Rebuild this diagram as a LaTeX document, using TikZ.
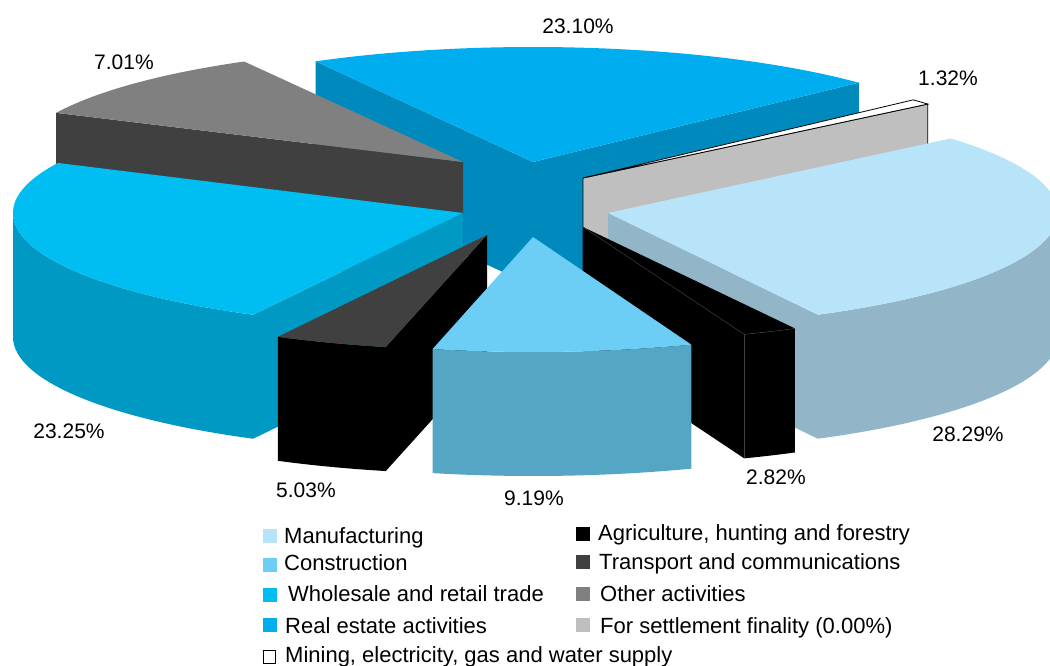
\documentclass[tikz,border=0pt]{standalone}
\usepackage{fontspec}
\setmainfont{Liberation Sans}
\definecolor{manuf}{HTML}{B7E4F8}
\definecolor{manufside}{HTML}{93B5C8}
\definecolor{constr}{HTML}{6CCEF5}
\definecolor{constrside}{HTML}{55A5C4}
\definecolor{whole}{HTML}{00BDF2}
\definecolor{wholeside}{HTML}{0099C4}
\definecolor{realest}{HTML}{00AEEF}
\definecolor{realestside}{HTML}{0089BD}
\definecolor{transp}{HTML}{404040}
\definecolor{other}{HTML}{808080}
\definecolor{settle}{HTML}{BFBFBF}

\begin{document}
\begin{tikzpicture}[x=1pt,y=-1pt,
  rim/.style={x radius=450,y radius=115},
  pct/.style={font=\fontsize{21}{25}\selectfont},
  leg/.style={anchor=base west,inner sep=0pt,font=\fontsize{22}{26}\selectfont},
  key/.style={minimum width=14pt,minimum height=14pt,inner sep=0pt}]
\useasboundingbox (0,0) rectangle (1050,666);
\clip (0,0) rectangle (1050,666);

% real estate
\fill[realestside] (533,162) -- ++(-118.9:450 and 115) -- ++(0,124) -- (533,286) -- cycle;
\fill[realestside] (533,162) -- ++(-43.6:450 and 115) -- ++(0,124) -- (533,286) -- cycle;
\fill[realest] (533,162) -- ++(-118.9:450 and 115) arc[rim,start angle=-118.9,end angle=-43.6] -- cycle;

% other activities
\fill[transp] (463,162) -- ++(-154.7:450 and 115) -- ++(0,124) -- (463,286) -- cycle;
\fill[other] (463,162) -- ++(-154.7:450 and 115) arc[rim,start angle=-154.7,end angle=-119.1] -- cycle;

% wholesale
\fill[wholeside] (463,213) ++(117.8:450 and 115) arc[rim,start angle=117.8,end angle=180] -- ++(0,124) arc[rim,start angle=180,end angle=117.8] -- cycle;
\fill[wholeside] (463,213) -- ++(117.8:450 and 115) -- ++(0,124) -- (463,337) -- cycle;
\fill[whole] (463,213) -- ++(117.8:450 and 115) arc[rim,start angle=117.8,end angle=205.8] -- cycle;

% mining
\filldraw[fill=settle,line width=0.8pt] (583,178) -- ++(-40:450 and 115) -- ++(0,124) -- (583,302) -- cycle;
\filldraw[fill=white,line width=0.8pt] (583,178) -- ++(-42.8:450 and 115) arc[rim,start angle=-42.8,end angle=-40] -- cycle;

% manufacturing
\fill[manufside] (608,213) ++(0:450 and 115) arc[rim,start angle=0,end angle=62.2] -- ++(0,124) arc[rim,start angle=62.2,end angle=0] -- cycle;
\fill[manufside] (608,213) -- ++(62.2:450 and 115) -- ++(0,124) -- (608,337) -- cycle;
\fill[manuf] (608,213) -- ++(-40.4:450 and 115) arc[rim,start angle=-40.4,end angle=62.2] -- cycle;

% transport
\fill[black] (487,235) ++(103:450 and 115) arc[rim,start angle=103,end angle=117.7] -- ++(0,124) arc[rim,start angle=117.7,end angle=103] -- cycle;
\fill[black] (487,235) -- ++(103:450 and 115) -- ++(0,124) -- (487,359) -- cycle;
\fill[transp] (487,235) -- ++(103:450 and 115) arc[rim,start angle=103,end angle=117.7] -- cycle;

% agriculture
\fill[black] (583,227) ++(61.9:450 and 115) arc[rim,start angle=61.9,end angle=69] -- ++(0,124) arc[rim,start angle=69,end angle=61.9] -- cycle;
\fill[black] (583,227) -- ++(69:450 and 115) -- ++(0,124) -- (583,351) -- cycle;
\fill[black] (583,227) -- ++(69:450 and 115) arc[rim,start angle=69,end angle=61.9] -- cycle;
\draw[transp,line width=0.4pt] (583,227) -- ++(69:450 and 115) coordinate (acorner) arc[rim,start angle=69,end angle=61.9];
\draw[transp,line width=0.4pt] (acorner) -- ++(0,124);

% construction
\fill[constrside] (533,237) ++(69.4:450 and 115) arc[rim,start angle=69.4,end angle=102.9] -- ++(0,124) arc[rim,start angle=102.9,end angle=69.4] -- cycle;
\fill[constr] (533,237) -- ++(69.4:450 and 115) arc[rim,start angle=69.4,end angle=102.9] -- cycle;

% percentages
\node[pct] (lreal) at (578,26) {23.10\%};
\node[pct] (lmin) at (948,78) {1.32\%};
\node[pct] (loth) at (124,62) {7.01\%};
\node[pct] (lwhole) at (69,431) {23.25\%};
\node[pct] (lmanuf) at (968,434) {28.29\%};
\node[pct] (ltrans) at (306,490) {5.03\%};
\node[pct] (lcons) at (534,498) {9.19\%};
\node[pct] (lagri) at (776,477) {2.82\%};

% legend
\node[key,fill=manuf] (kmanuf) at (270,536) {};
\node[key,fill=constr] (kcons) at (270,565) {};
\node[key,fill=whole] (kwhole) at (270,595) {};
\node[key,fill=realest] (kreal) at (270,625) {};
\node[key,draw=black,line width=0.8pt,minimum width=12pt,minimum height=13pt] (kmin) at (269,657) {};
\node[key,fill=black] (kagri) at (583,534) {};
\node[key,fill=transp] (ktrans) at (583,562) {};
\node[key,fill=other] (koth) at (583,594) {};
\node[key,fill=settle] (kset) at (583,625) {};
\node[leg] (tmanuf) at (284,543) {Manufacturing};
\node[leg] (tcons) at (284,570) {Construction};
\node[leg] (twhole) at (288,601) {Wholesale and retail trade};
\node[leg] (treal) at (285,633) {Real estate activities};
\node[leg] (tmin) at (285,662) {Mining, electricity, gas and water supply};
\node[leg] (tagri) at (598,540) {Agriculture, hunting and forestry};
\node[leg] (ttrans) at (599,569) {Transport and communications};
\node[leg] (toth) at (600,601) {Other activities};
\node[leg] (tset) at (600,633) {For settlement finality (0.00\%)};
\end{tikzpicture}
\end{document}
